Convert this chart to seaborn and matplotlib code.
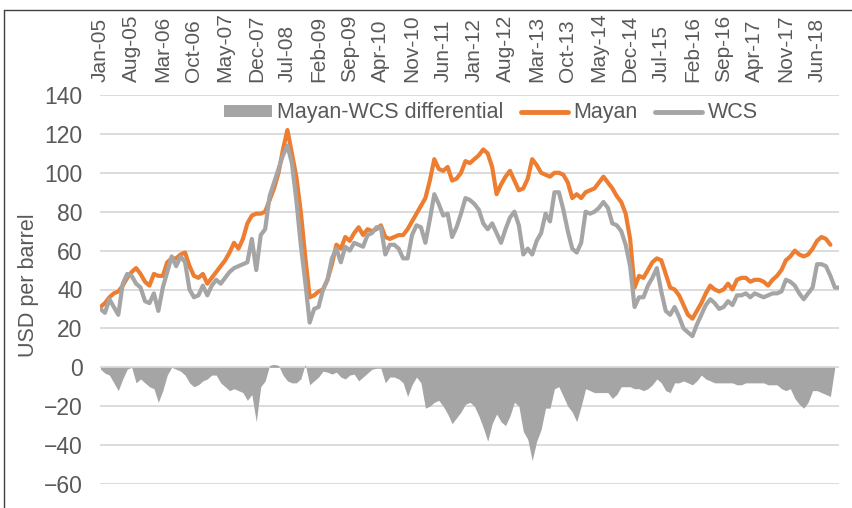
import numpy as np
import pandas as pd
import seaborn as sns
import matplotlib.pyplot as plt
from matplotlib.patches import Patch
from matplotlib.lines import Line2D

# monthly prices, Jan-05 .. Nov-18 (USD per barrel)
mayan = [31, 33, 36, 38, 39, 42, 46, 49, 51, 48, 44, 42, 48, 47, 47, 54, 56, 56, 58, 59,
         52, 47, 46, 48, 43, 46, 49, 52, 55, 59, 64, 61, 66, 74, 78, 79, 79, 80, 86, 92,
         100, 112, 122, 110, 98, 80, 57, 36, 37, 39, 40, 45, 53, 63, 61, 67, 65, 69, 72, 68,
         71, 70, 71, 73, 67, 66, 67, 68, 68, 71, 75, 79, 83, 87, 96, 107, 102, 101, 103, 96,
         97, 100, 106, 105, 107, 109, 112, 110, 103, 89, 94, 98, 101, 96, 91, 92, 97, 107, 104, 100,
         99, 98, 100, 100, 99, 95, 87, 89, 87, 90, 91, 92, 95, 98, 95, 92, 88, 85, 79, 66,
         41, 47, 46, 50, 54, 56, 55, 48, 41, 40, 37, 32, 27, 25, 29, 33, 38, 42, 40, 39,
         40, 43, 40, 45, 46, 46, 44, 45, 45, 44, 42, 45, 47, 50, 55, 57, 60, 58, 57, 58,
         61, 65, 67, 66, 63]

wcs = [30, 28, 35, 31, 27, 43, 48, 47, 43, 41, 34, 33, 38, 29, 41, 49, 57, 52, 57, 54,
       40, 36, 37, 42, 37, 42, 45, 43, 46, 49, 51, 52, 53, 54, 66, 50, 68, 71, 88, 95,
       102, 109, 114, 105, 86, 63, 44, 23, 30, 31, 40, 45, 56, 61, 54, 62, 60, 64, 63, 62,
       68, 69, 72, 72, 58, 63, 63, 61, 56, 56, 68, 73, 72, 64, 76, 89, 84, 78, 79, 67,
       72, 79, 87, 86, 84, 81, 74, 71, 74, 69, 64, 71, 77, 80, 73, 58, 61, 58, 65, 69,
       79, 75, 90, 90, 81, 70, 61, 59, 64, 80, 79, 80, 82, 85, 82, 74, 73, 70, 63, 52,
       31, 36, 36, 42, 46, 51, 39, 29, 27, 31, 26, 20, 18, 16, 22, 27, 32, 35, 33, 30,
       31, 34, 32, 37, 37, 38, 36, 38, 37, 36, 37, 38, 38, 39, 45, 44, 42, 38, 35, 38,
       41, 53, 53, 52, 47, 41, 41]

differential = [-1, -3, -4, -8, -12, -6, -1, 0, -8, -6, -8, -10, -11, -18, -12, -4, 0, -1, -2, -4,
                -8, -10, -9, -7, -6, -4, -4, -8, -10, -12, -11, -12, -13, -17, -14, -28, -10, -7, 1, 1.5,
                1, -4, -7, -8, -8, -6, 1.5, -9, -7, -5, -2, -2.5, -3.5, -2.5, -5, -6, -4, -3.5, -7, -5,
                -3, -1, -0.5, -0.5, -8, -5, -5, -6, -8, -15, -9, -5, -8, -21, -20, -18, -17, -20, -24, -29,
                -26, -23, -19, -18, -20, -25, -31, -38, -29, -24, -28, -30, -25, -18, -20, -33, -37, -48, -38, -32,
                -21, -21, -11, -10, -15, -20, -23, -28, -20, -11, -12, -13, -13, -13, -13, -16, -14, -10, -10, -10,
                -11, -11, -12, -11, -9, -6, -8, -12, -13, -8, -8, -7, -8, -9, -7, -4, -6, -7, -8, -8,
                -8, -8, -8, -9, -9, -8, -8, -8, -8, -8, -9, -9, -9, -11, -12, -11, -16, -19, -21, -18,
                -12, -12, -13, -14, -15, 0]

tick_labels = ["Jan-05", "Aug-05", "Mar-06", "Oct-06", "May-07", "Dec-07", "Jul-08", "Feb-09",
               "Sep-09", "Apr-10", "Nov-10", "Jun-11", "Jan-12", "Aug-12", "Mar-13", "Oct-13",
               "May-14", "Dec-14", "Jul-15", "Feb-16", "Sep-16", "Apr-17", "Nov-17", "Jun-18"]

ORANGE = "#ED7D31"
GREY = "#A5A5A5"
TEXT = "#595959"

sns.set_theme(style="white")
plt.rcParams["font.family"] = ["Liberation Sans", "DejaVu Sans"]

df_m = pd.DataFrame({"month": np.arange(len(mayan)), "price": mayan})
df_w = pd.DataFrame({"month": np.arange(len(wcs)), "price": wcs})
diff_x = np.arange(len(differential))

W, H = 853, 508
fig = plt.figure(figsize=(W / 100, H / 100), dpi=100)
ax = fig.add_axes([100.5 / W, 24 / H, 738.8 / W, 389 / H])

ax.fill_between(diff_x, differential, 0, color=GREY, lw=0, zorder=2)
sns.lineplot(data=df_m, x="month", y="price", ax=ax, color=ORANGE, lw=3, zorder=3)
sns.lineplot(data=df_w, x="month", y="price", ax=ax, color=GREY, lw=3, zorder=4)

ax.set_xlim(0, len(wcs) - 1)
ax.set_ylim(-60, 140)
ax.set_yticks(range(-60, 141, 20))
ax.yaxis.grid(True, color="#D9D9D9", lw=1.3, zorder=0)
ax.set_axisbelow(True)
for s in ax.spines.values():
    s.set_visible(False)

ax.xaxis.tick_top()
ax.set_xticks(range(0, len(wcs), 7))
ax.set_xticklabels(tick_labels, rotation=90)
ax.tick_params(axis="x", length=0, pad=9, labelsize=15, labelcolor=TEXT)
ax.tick_params(axis="y", length=0, pad=13, labelsize=16.5, labelcolor=TEXT)
ax.set_xlabel("")
ax.set_ylabel("USD per barrel", fontsize=15.5, color=TEXT)
ax.yaxis.set_label_coords(-0.083, 0.51)

handles = [Patch(facecolor=GREY, edgecolor="none"),
           Line2D([], [], color=ORANGE, lw=3.5),
           Line2D([], [], color=GREY, lw=3.5)]
ax.legend(handles, ["Mayan-WCS differential", "Mayan", "WCS"], loc="center",
          bbox_to_anchor=(0.5286, 0.954), ncol=3, frameon=False, fontsize=15.5,
          labelcolor=TEXT, handlelength=2.2, handleheight=0.5, handletextpad=0.25,
          columnspacing=0.8, borderaxespad=0)

# thin frame on the left and top edge of the screenshot
fig.add_artist(Line2D([4.5 / W, 4.5 / W], [0, 1 - 9.5 / H], color="#404040", lw=1))
fig.add_artist(Line2D([4.5 / W, 1], [1 - 9.5 / H, 1 - 9.5 / H], color="#404040", lw=1))

plt.savefig("out.png", dpi=100)
plt.close()
